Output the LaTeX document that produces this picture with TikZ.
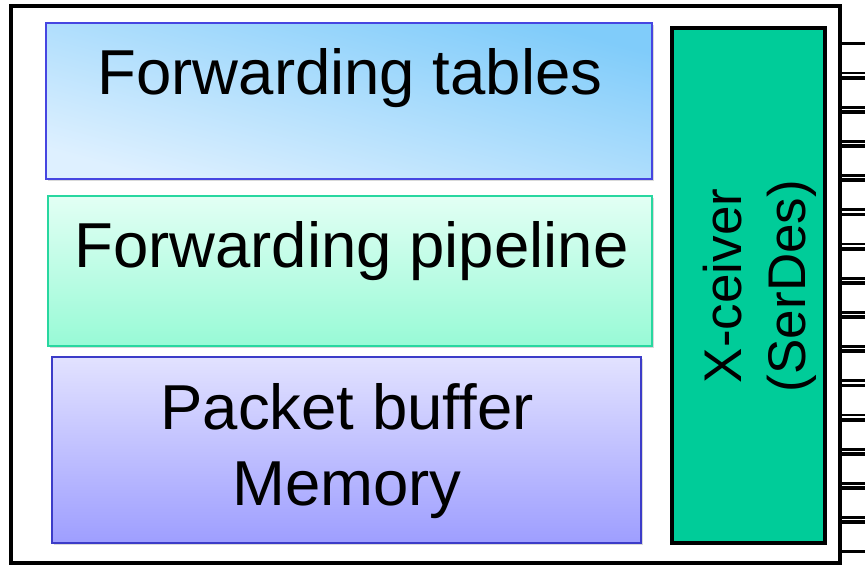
\documentclass[tikz,border=0pt]{standalone}
\usepackage{fontspec}
\setmainfont{Liberation Sans}
\usepackage{tikz}
\usetikzlibrary{positioning,shadows}
\definecolor{tablestop}{RGB}{128,204,250}
\definecolor{tablesbot}{RGB}{222,240,255}
\definecolor{tablesedge}{RGB}{70,70,225}
\definecolor{pipetop}{RGB}{226,255,244}
\definecolor{pipebot}{RGB}{152,250,214}
\definecolor{pipeedge}{RGB}{40,215,160}
\definecolor{buftop}{RGB}{226,226,255}
\definecolor{bufbot}{RGB}{158,158,255}
\definecolor{bufedge}{RGB}{60,60,200}
\definecolor{xcvfill}{RGB}{0,204,153}
\tikzset{
    chip/.style = {
        draw,
        shape=rectangle,
        minimum width=829pt,
        minimum height=557pt,
        line width=4.5pt
    },
    unit/.style = {
        draw,
        shape=rectangle,
        line width=1.4pt,
        drop shadow={shadow xshift=1.5pt, shadow yshift=-1.5pt, opacity=0.3}
    },
    xcv/.style = {
        draw,
        shape=rectangle,
        fill=xcvfill,
        minimum width=153pt,
        minimum height=515pt,
        line width=4.5pt
    },
    pintop/.style = {
        line width=3.8pt
    },
    pinbot/.style = {
        line width=2.8pt
    },
    bigtext/.style = {
        font=\fontsize{63.5}{76}\selectfont,
        align=center,
        inner sep=0pt
    },
    sidetext/.style = {
        font=\fontsize{53}{64}\selectfont,
        align=center,
        inner sep=0pt,
        rotate=90
    },
}

\begin{document}
\begin{tikzpicture}[x=1pt, y=-1pt]
    \useasboundingbox (0,0) rectangle (865,565);
    \node[chip] (chip) at (425.5, 284.5) {};

    \node[unit, minimum width=606pt, minimum height=156pt, draw=tablesedge,
          bottom color=tablesbot, top color=tablestop, shading angle=-15] (tables) at (349, 101) {};
    \node[unit, minimum width=604pt, minimum height=150pt, draw=pipeedge,
          top color=pipetop, bottom color=pipebot] (pipeline) at (350, 271) {};
    \node[unit, minimum width=589pt, minimum height=186pt, draw=bufedge,
          top color=buftop, bottom color=bufbot] (buffer) at (346.5, 450) {};
    \node[xcv] (serdes) at (748.5, 285.5) {};

    \node[bigtext, anchor=base] (tablestext)   at (350, 94)    {Forwarding tables};
    \node[bigtext, anchor=base] (pipelinetext) at (351.5, 267) {Forwarding pipeline};
    \node[bigtext, anchor=base] (buffertext)   at (347, 505)   {Packet buffer\\Memory};
    \node[sidetext] (serdestext) at (760, 286) {X-ceiver\\(SerDes)};

    \foreach \k in {0,...,14} {
        \draw[pintop] (chip.east |- 0,{43.5+34.2*\k}) -- ++(25,0);
        \draw[pinbot] (chip.east |- 0,{73+34.2*\k}) -- ++(25,0);
    }
\end{tikzpicture}
\end{document}
